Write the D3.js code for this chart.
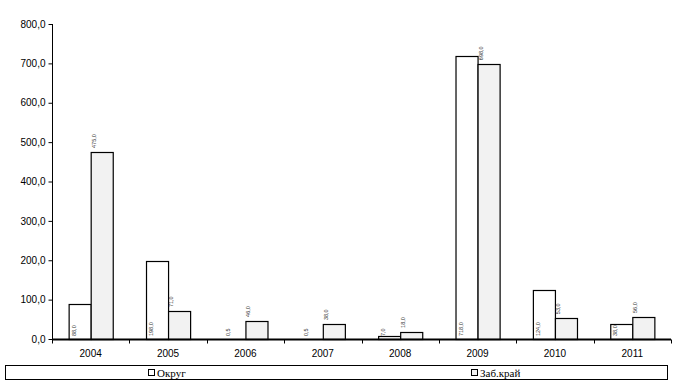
<!DOCTYPE html>
<html><head><meta charset="utf-8">
<script src="https://cdn.jsdelivr.net/npm/d3@7"></script>
<style>body{margin:0;background:#fff}svg{display:block}</style>
</head><body>
<script>
const years = ["2004","2005","2006","2007","2008","2009","2010","2011"];
const okrug = [88, 198, 0.5, 0.5, 7, 718, 124, 38];
const zabkrai = [475, 71, 46, 38, 18, 698, 53, 56];
const seriesNames = ["Округ", "Заб.край"];
const yTicks = [0,100,200,300,400,500,600,700,800];

const W = 677, H = 391;
const svg = d3.select("body").append("svg").attr("width", W).attr("height", H);
const m = {l:52, r:671, t:24, b:339};
const x = d3.scaleBand().domain(years).range([m.l, m.r]).paddingInner(0.43).paddingOuter(0.215);
const xCat = d3.scaleBand().domain(years).range([m.l, m.r]);
const x1 = d3.scaleBand().domain([0,1]).range([0, x.bandwidth()]);
const y = d3.scaleLinear().domain([0,800]).range([m.b, m.t]);
const fmt = v => d3.format(".1f")(v).replace(".", ",");

// bars
const data = years.map((yr,i)=>({yr, vals:[okrug[i], zabkrai[i]]}));
const g = svg.append("g");
data.forEach(d=>{
  d.vals.forEach((v,j)=>{
    g.append("rect")
      .attr("x", x(d.yr)+x1(j)+0.5)
      .attr("y", Math.round(y(v))+0.5)
      .attr("width", x1.bandwidth())
      .attr("height", Math.max(0, y(0)-Math.round(y(v))))
      .attr("fill", j===0 ? "#ffffff" : "#f2f2f2")
      .attr("stroke", "#000").attr("stroke-width", 1.2);
  });
});

// tiny rotated labels
data.forEach(d=>{
  d.vals.forEach((v,j)=>{
    const lx = x(d.yr)+x1(j)+ (j===0 ? 7 : 5);
    const ly = j===0 ? y(0)-3 : y(v)-4;
    svg.append("text")
      .attr("transform", `translate(${lx},${ly}) rotate(-90)`)
      .attr("font-family","Liberation Sans, Arial, sans-serif")
      .attr("font-size", 5.5).attr("fill","#333")
      .attr("text-anchor","start")
      .text(fmt(v));
  });
});

// y axis
const yAxis = d3.axisLeft(y).tickValues(yTicks).tickFormat(fmt).tickSize(4).tickPadding(3);
const ya = svg.append("g").attr("transform", `translate(${m.l+0.5},0)`).call(yAxis);
ya.selectAll("text").attr("font-family","Liberation Sans, Arial, sans-serif").attr("font-size",10).attr("fill","#000");
ya.selectAll("line,path").attr("stroke","#000");
ya.select(".domain").attr("d", `M0,${m.t}V${m.b}`);

// x axis
const xa = svg.append("g").attr("transform", `translate(0,${m.b+0.5})`);
xa.append("line").attr("x1", m.l).attr("x2", m.r).attr("stroke","#000").attr("stroke-width",1.8);
years.concat(["end"]).forEach((yr,i)=>{
  const px = i<years.length ? xCat(yr) : m.r;
  xa.append("line").attr("x1",Math.round(px)+0.5).attr("x2",Math.round(px)+0.5).attr("y1",0).attr("y2",4).attr("stroke","#000");
});
years.forEach(yr=>{
  xa.append("text").attr("x", xCat(yr)+xCat.bandwidth()/2).attr("y", 17)
    .attr("text-anchor","middle").attr("font-family","Liberation Sans, Arial, sans-serif")
    .attr("font-size",10).text(yr);
});

// legend
const lg = svg.append("g");
lg.append("rect").attr("x",5.5).attr("y",365.5).attr("width",662).attr("height",14)
  .attr("fill","#fff").attr("stroke","#000").attr("stroke-width",1);
const legX = [148, 471];
seriesNames.forEach((n,i)=>{
  lg.append("rect").attr("x",legX[i]+0.5).attr("y",369.5).attr("width",6).attr("height",6)
    .attr("fill", i===0?"#fff":"#f2f2f2").attr("stroke","#000");
  lg.append("text").attr("x",legX[i]+9).attr("y",377)
    .attr("font-family","Liberation Serif, Times New Roman, serif").attr("font-size",11).text(n);
});
</script>
</body></html>
